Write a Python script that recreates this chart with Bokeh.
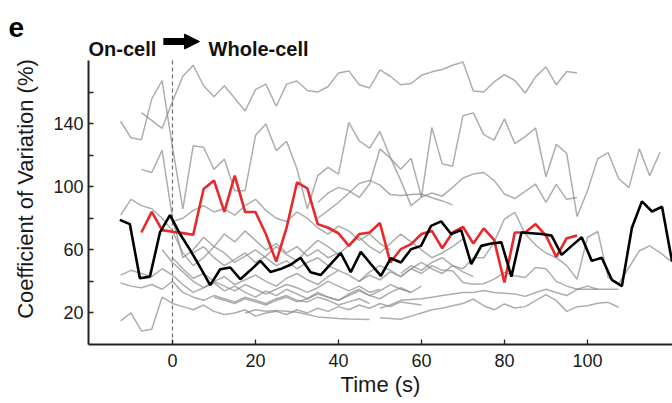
from bokeh.plotting import figure
from bokeh.models import Range1d, FixedTicker, Arrow, NormalHead
from bokeh.core.properties import value
from bokeh.embed import file_html
from bokeh.resources import INLINE

FONT = "Liberation Sans"
STEP = 2.5          # sampling interval of the gray / red traces (s)
BLACK_STEP = 2.42   # sampling interval of the black trace (s)

# ---- individual cells: start time (s) and CV values (%) ----
cell_a_t0 = -7.5
cell_a = [147, 142, 137, 154, 170, 177, 164, 157, 164, 156, 148, 161.5, 165, 151, 165,
          167, 161, 160, 163.5, 172, 173.4, 164.6, 162.6, 174, 170, 164.6, 165.4, 170.6,
          172.8, 174.3, 177, 179, 160.6, 160, 166.4, 171, 167.3, 159.4, 169.6, 176,
          164.6, 173, 172]

cell_b_t0 = -12.5
cell_b = [141.5, 131, 129.7, 155.7, 167.3, 125, 86, 126, 125, 111, 117.6, 97.5, 97.5,
          132.4, 139.8, 122.9, 128.8, 111.2, 86, 107, 112.3, 108, 140.8, 129, 124.5, 135,
          118.6, 104, 88, 93.3, 137.5, 114.5, 113, 145, 146.8, 133, 129.5, 143, 127.3,
          131.7, 137.2, 106.3, 126.8, 121.2, 81, 97.5, 117.8, 121.6, 105.2, 99.4, 124,
          107, 121.8]

cell_c_t0 = -7.5
cell_c = [111, 109, 123, 80, 55, 60, 68, 62, 70, 65, 72, 66, 60, 64, 58, 62, 56, 60, 55, 58]

cell_h_t0 = 35
cell_h = [90, 96, 99.6, 97.5, 93.2, 101.7, 124, 118, 111, 118, 93.4, 96, 94, 99.6, 105.5,
          108, 109, 104, 95.4, 92.5, 97, 101.7, 90, 101.5, 92, 93.2]

cell_i_t0 = 35
cell_i = [80, 85, 90, 96, 102, 104, 101, 95, 94.5, 95, 95.4, 93, 91, 88.5]

cell_j_t0 = 55
cell_j = [45, 50, 47, 52, 55, 50, 48, 55, 55, 64.7, 79.5, 83.7, 70, 63, 58, 55, 50, 41.4,
          67.8, 71.6, 42.4, 38.2, 48.8, 59.4, 62.5, 58.3, 53]

cell_p_t0 = -12.5
cell_p = [82, 92, 88, 86, 80, 72, 58, 50, 55, 62, 58, 52, 56, 60, 55, 50, 53, 48, 52, 55,
          50, 47]

cell_q_t0 = -12.5
cell_q = [44, 47, 45, 43, 48, 44, 38, 33, 36, 40, 37, 34, 38, 35, 32, 35, 38, 36, 33, 36,
          40, 37, 34, 37, 33, 35]

cell_r_t0 = -12.5
cell_r = [39, 37, 36, 38, 35, 40, 33, 30, 28, 31, 29, 27, 30, 28, 26, 29, 31, 28, 27, 30,
          28, 25, 27, 29, 26]

cell_s_t0 = -12.5
cell_s = [15, 20, 8.6, 9.6, 30, 26, 24, 22, 25, 21, 19, 20, 22, 18, 20, 21, 19, 22, 20,
          23, 21, 24, 22, 25, 23, 26, 24, 27, 26, 25]

cell_bl_t0 = 17.5
cell_bl = [20, 22, 21, 21.5, 21, 20.5, 19, 17.5, 17, 16.5, 16.2, 16, 15.8]

cell_rl1_t0 = 50
cell_rl1 = [17, 16.5, 16, 18, 20, 22, 23, 24.5, 26, 28.8, 24.6, 22, 25.7, 23.1, 24, 27.8,
            31.6, 27.8, 21, 24, 24.6, 26.1, 26.7, 23.6]

cell_rl2_t0 = 50
cell_rl2 = [23, 25, 28, 28.5, 29, 30, 31, 32, 33, 33, 34.2, 33, 32.5, 32, 30.5, 33, 35, 33,
            31, 35, 37, 35, 35, 35]

cell_rl3_t0 = 45
cell_rl3 = [40, 44, 41, 46, 43, 48, 45, 50, 47, 46.7, 39.3, 38.2, 38.5, 41.4, 45.6, 43.5,
            42.5, 48.8, 48, 40, 37, 35, 35, 35]

cell_w1_t0 = 0
cell_w1 = [55, 48, 42, 45, 40, 43, 38, 41, 44, 40, 37, 42, 45, 41, 38, 43, 47, 44, 40, 46,
           50, 47, 43, 48, 52, 48, 45, 50, 46, 43]

cell_w2_t0 = -2.5
cell_w2 = [60, 52, 46, 40, 36, 39, 34, 37, 33, 30, 34, 31, 35, 32, 29, 33, 30, 28, 32, 35,
           31, 34, 38, 35, 33, 37]

cell_w3_t0 = 5
cell_w3 = [58, 62, 55, 50, 54, 58, 52, 56, 62, 57, 53, 60, 66, 62, 57, 63, 68, 62, 58, 64,
           70, 65, 60, 55, 58, 62, 67]

cell_w4_t0 = 10
cell_w4 = [30, 28, 26, 29, 27, 25, 28, 30, 27, 29, 32, 30, 28, 31, 34, 31, 29, 33, 36, 33]

cell_y_t0 = 0
cell_y = [78, 80, 85, 88, 84, 86, 82, 88, 92, 85, 80, 78, 84, 80, 74, 70, 75, 72, 66, 70,
          64, 60]

# ---- highlighted cells ----
red_t0 = -7.5
red_cv = [71, 84, 72.5, 71.5, 70.6, 69.5, 98.5, 104, 84, 107, 84, 84, 70, 52.5, 74, 102.7,
          99, 76.3, 74, 70.5, 62.5, 70, 71, 77, 52, 60.4, 63.6, 70, 72, 61, 71, 74.6, 64,
          73.6, 66.3, 39.3, 71, 71, 76.3, 69, 55.5, 67.4, 69]

black_t0 = -12.7
black_cv = [79, 76.3, 42, 43, 71, 82, 70, 60, 49, 37.6, 47.7, 48.8, 41.4, 47, 53, 46, 47.8,
            50.5, 55, 45.8, 44, 51, 58, 45.8, 58.7, 51, 43.5, 54.7, 52, 60.4, 62.5, 75.2, 78,
            70, 72.5, 51, 62.5, 64, 64.7, 43, 71, 70.5, 70, 69, 56.8, 62.5, 68, 53, 55, 41,
            37, 74, 90.7, 84.3, 87.3, 52.4]

x_ticks = [0, 20, 40, 60, 80, 100]
y_ticks = [20, 40, 60, 80, 100, 120, 140, 160]
y_labelled = [20, 60, 100, 140]
Y_MAX = 180         # top of the value axis
HEADER_Y = 187      # baseline of the "On-cell -> Whole-cell" header (value units)

gray_cells = [
    (cell_a_t0, cell_a), (cell_b_t0, cell_b), (cell_c_t0, cell_c), (cell_h_t0, cell_h),
    (cell_i_t0, cell_i), (cell_j_t0, cell_j), (cell_p_t0, cell_p), (cell_q_t0, cell_q),
    (cell_r_t0, cell_r), (cell_s_t0, cell_s), (cell_bl_t0, cell_bl), (cell_rl1_t0, cell_rl1),
    (cell_rl2_t0, cell_rl2), (cell_rl3_t0, cell_rl3), (cell_w1_t0, cell_w1),
    (cell_w2_t0, cell_w2), (cell_w3_t0, cell_w3), (cell_w4_t0, cell_w4), (cell_y_t0, cell_y),
]


def times(t0, vals, step=STEP):
    return [t0 + step * i for i in range(len(vals))]


p = figure(width=672, height=403, output_backend="svg", toolbar_location=None,
           x_range=Range1d(-20.24, 120.5), y_range=Range1d(0, 197.1),
           min_border_left=88, min_border_right=0, min_border_top=33, min_border_bottom=59,
           outline_line_color=None)
p.grid.visible = False

# panel letter
p.title.text = "e"
p.title.align = "left"
p.title.offset = -80
p.title.standoff = -6
p.title.text_font = FONT
p.title.text_font_size = "28px"
p.title.text_font_style = "bold"
p.title.text_color = "black"

for t0, vals in gray_cells:
    p.line(times(t0, vals), vals, line_color="#8a8a8a", line_alpha=0.7, line_width=1.5)

# break-in moment
p.segment(x0=[0], y0=[0], x1=[0], y1=[Y_MAX + 1], line_color="#6e6e6e",
          line_dash="4 3", line_width=1.2)

p.line(times(red_t0, red_cv), red_cv, line_color="#e8282b", line_width=2.6)
p.line(times(black_t0, black_cv, BLACK_STEP), black_cv, line_color="black", line_width=2.6)

# header: On-cell -> Whole-cell
p.text(x=[-20.24], y=[HEADER_Y], text=["On-cell"], text_font=value(FONT),
       text_font_size="20px", text_font_style="bold", text_color="#111111",
       text_baseline="alphabetic", text_align="left")
p.text(x=[8.7], y=[HEADER_Y], text=["Whole-cell"], text_font=value(FONT),
       text_font_size="20px", text_font_style="bold", text_color="#111111",
       text_baseline="alphabetic", text_align="left")
p.add_layout(Arrow(x_start=-2.2, y_start=HEADER_Y + 5, x_end=6.5, y_end=HEADER_Y + 5,
                   line_width=7, line_color="black",
                   end=NormalHead(size=15, fill_color="black", line_color="black")))

for ax in (p.xaxis[0], p.yaxis[0]):
    ax.axis_line_width = 2
    ax.axis_line_color = "#222222"
    ax.major_tick_in = 5
    ax.major_tick_out = 0
    ax.minor_tick_line_color = None
    ax.major_tick_line_width = 1.3
    ax.major_tick_line_color = "#222222"
    ax.major_label_text_font = FONT
    ax.major_label_text_font_size = "18px"
    ax.major_label_text_color = "#1a1a1a"
    ax.axis_label_text_font = FONT
    ax.axis_label_text_font_size = "22px"
    ax.axis_label_text_font_style = "normal"
    ax.axis_label_text_color = "#1a1a1a"

p.xaxis.ticker = FixedTicker(ticks=x_ticks)
p.xaxis.axis_label = "Time (s)"
p.xaxis.major_label_standoff = 9
p.xaxis.axis_label_standoff = 2

p.yaxis.bounds = (0, Y_MAX)
p.yaxis.ticker = FixedTicker(ticks=y_ticks)
p.yaxis.major_label_overrides = {v: "" for v in y_ticks if v not in y_labelled}
p.yaxis.axis_label = "Coefficient of Variation (%)"
p.yaxis.major_label_standoff = 5
p.yaxis.axis_label_standoff = 12

open("out.html", "w").write(file_html(p, INLINE))
